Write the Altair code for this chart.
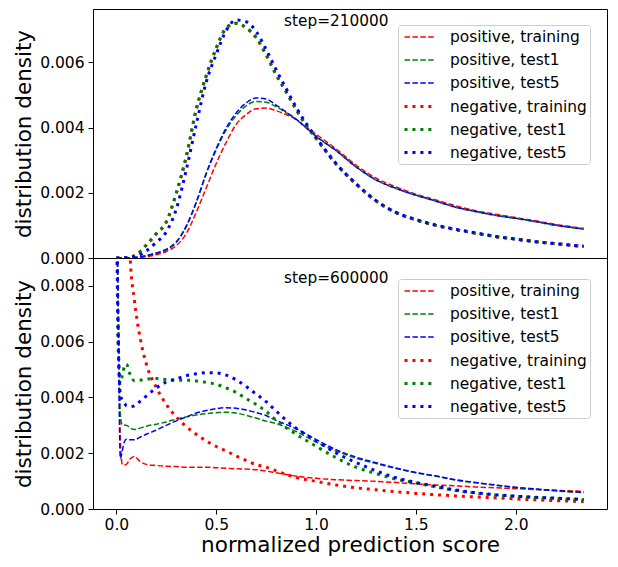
import altair as alt
import pandas as pd

FONT = "DejaVu Sans"

SERIES = ["positive, training", "positive, test1", "positive, test5",
          "negative, training", "negative, test1", "negative, test5"]
COLORS = ["#ff0000", "#008000", "#0000ff", "#ff0000", "#008000", "#0000ff"]
DASHES = [[5.5, 2.4], [5.5, 2.4], [5.5, 2.4], [3, 4.95], [3, 4.95], [3, 4.95]]
WIDTHS = [1.5, 1.5, 1.5, 3, 3, 3]

STEPS = ["step=210000", "step=600000"]
STEP_X = [0.84, 0.84]

# ---- panel 1: step=210000 ----
x_top = [0, 0.05, 0.1, 0.15, 0.2, 0.25, 0.3, 0.35, 0.4, 0.45, 0.5, 0.55, 0.6, 0.65,
         0.7, 0.75, 0.8, 0.85, 0.9, 0.95, 1.0, 1.1, 1.2, 1.3, 1.4, 1.5, 1.6, 1.7,
         1.8, 1.9, 2.0, 2.1, 2.2, 2.34]
top_pos_training = [0, 0, 0.00001, 0.00004, 0.0001, 0.0002, 0.00038, 0.00075, 0.0014,
                    0.00215, 0.0029, 0.00355, 0.0041, 0.0044, 0.00458, 0.0046, 0.00452,
                    0.0044, 0.00425, 0.00403, 0.0038, 0.00335, 0.00285, 0.00245, 0.00218,
                    0.00196, 0.00178, 0.0016, 0.00145, 0.00134, 0.00124, 0.00114, 0.00103,
                    0.00091]
top_pos_test1 = [0, 0, 0.00002, 0.00008, 0.00016, 0.00027, 0.0005, 0.00098, 0.0017,
                 0.00258, 0.00332, 0.00393, 0.00437, 0.00467, 0.0048, 0.00478, 0.00464,
                 0.00446, 0.00425, 0.00399, 0.00373, 0.00329, 0.00279, 0.00239, 0.00213,
                 0.00192, 0.00174, 0.00155, 0.00142, 0.0013, 0.00121, 0.00111, 0.001,
                 0.00088]
top_pos_test5 = [0, 0, 0.00002, 0.00007, 0.00014, 0.00025, 0.00048, 0.00097, 0.00171,
                 0.0026, 0.00336, 0.00399, 0.00445, 0.00476, 0.00491, 0.00488, 0.00469,
                 0.00448, 0.00426, 0.004, 0.00374, 0.0033, 0.0028, 0.0024, 0.00214,
                 0.00193, 0.00175, 0.00156, 0.00143, 0.00131, 0.00122, 0.00112, 0.00101,
                 0.00089]
top_neg_training = [0, 0.00001, 0.0001, 0.0004, 0.00074, 0.0011, 0.00198, 0.0031, 0.00455,
                    0.00558, 0.00643, 0.00705, 0.0072, 0.00706, 0.00676, 0.00623, 0.00562,
                    0.0051, 0.00456, 0.00407, 0.00367, 0.00288, 0.00227, 0.00175, 0.00139,
                    0.00117, 0.001, 0.00087, 0.00076, 0.00065, 0.00058, 0.0005, 0.00044,
                    0.00035]
top_neg_test1 = [0, 0.00001, 0.0001, 0.0004, 0.00075, 0.00111, 0.002, 0.00312, 0.00456,
                 0.0056, 0.00644, 0.00706, 0.0072, 0.00707, 0.00677, 0.00624, 0.00563,
                 0.0051, 0.00456, 0.00408, 0.00368, 0.00289, 0.00228, 0.00176, 0.0014,
                 0.00117, 0.001, 0.00087, 0.00076, 0.00066, 0.00058, 0.0005, 0.00044,
                 0.00035]
top_neg_test5 = [0, 0.00001, 0.00005, 0.00022, 0.00048, 0.0008, 0.0015, 0.0027, 0.0041,
                 0.0054, 0.00625, 0.00698, 0.0073, 0.00725, 0.00695, 0.0064, 0.00578,
                 0.0052, 0.00463, 0.00413, 0.0037, 0.0029, 0.00228, 0.00176, 0.0014,
                 0.00118, 0.00101, 0.00088, 0.00077, 0.00066, 0.00058, 0.0005, 0.00044,
                 0.00036]

# ---- panel 2: step=600000 ----
x_bot = [0, 0.01, 0.02, 0.03, 0.04, 0.05, 0.07, 0.09, 0.12, 0.15, 0.2, 0.25, 0.3, 0.35,
         0.4, 0.45, 0.5, 0.55, 0.6, 0.65, 0.7, 0.75, 0.8, 0.9, 1.0, 1.1, 1.2, 1.3, 1.4,
         1.5, 1.6, 1.7, 1.8, 1.9, 2.0, 2.1, 2.2, 2.34]
bot_pos_training = [0.012, 0.007, 0.0025, 0.0016, 0.00158, 0.0016, 0.0018, 0.00188, 0.0017,
                    0.0016, 0.00156, 0.00153, 0.00152, 0.0015, 0.0015, 0.0015, 0.00148,
                    0.00146, 0.00144, 0.00143, 0.00141, 0.00136, 0.0013, 0.00118, 0.0011,
                    0.00105, 0.00102, 0.00099, 0.00095, 0.0009, 0.00086, 0.00083, 0.00079,
                    0.00076, 0.00073, 0.0007, 0.00067, 0.00063]
bot_pos_test1 = [0.012, 0.007, 0.0034, 0.003, 0.003, 0.003, 0.0029, 0.00285, 0.0029,
                 0.00297, 0.00304, 0.00312, 0.00322, 0.0033, 0.00337, 0.00342, 0.00345,
                 0.00347, 0.00344, 0.00336, 0.00326, 0.00315, 0.00306, 0.00278, 0.0024,
                 0.00208, 0.00182, 0.00163, 0.00145, 0.0013, 0.00118, 0.00103, 0.00094,
                 0.00085, 0.00077, 0.00071, 0.00065, 0.00059]
bot_pos_test5 = [0.012, 0.006, 0.0018, 0.0021, 0.0024, 0.0025, 0.00248, 0.00248, 0.00258,
                 0.00268, 0.00283, 0.003, 0.00316, 0.0033, 0.00344, 0.00353, 0.0036,
                 0.00363, 0.00361, 0.00355, 0.00346, 0.00335, 0.00318, 0.00288, 0.00249,
                 0.00213, 0.00186, 0.00166, 0.00147, 0.00131, 0.00118, 0.00105, 0.00095,
                 0.00086, 0.00078, 0.00072, 0.00066, 0.0006]
bot_neg_training = [0.03, 0.028, 0.025, 0.02, 0.016, 0.013, 0.0089, 0.0075, 0.0061, 0.0052,
                    0.00436, 0.00375, 0.0033, 0.00296, 0.00268, 0.00244, 0.00224, 0.00208,
                    0.0019, 0.00174, 0.00159, 0.0015, 0.00137, 0.00113, 0.00099, 0.00086,
                    0.00076, 0.00069, 0.00062, 0.00056, 0.00051, 0.00047, 0.00043, 0.0004,
                    0.00036, 0.00033, 0.0003, 0.00027]
bot_neg_test1 = [0.012, 0.0055, 0.0045, 0.0048, 0.0051, 0.0052, 0.0048, 0.0046, 0.00462,
                 0.00466, 0.00468, 0.00464, 0.00462, 0.00462, 0.00459, 0.00454, 0.00447,
                 0.00434, 0.00418, 0.00396, 0.00375, 0.0035, 0.00318, 0.00268, 0.00225,
                 0.00184, 0.0015, 0.00127, 0.00107, 0.00093, 0.00079, 0.00066, 0.00057,
                 0.0005, 0.00045, 0.00041, 0.00038, 0.00033]
bot_neg_test5 = [0.012, 0.006, 0.0041, 0.0039, 0.0038, 0.0037, 0.00367, 0.0037, 0.00387,
                 0.00405, 0.00434, 0.00455, 0.00466, 0.00478, 0.00485, 0.00489, 0.00488,
                 0.0048, 0.00463, 0.00439, 0.00412, 0.00385, 0.00351, 0.0029, 0.00245,
                 0.00201, 0.00167, 0.00137, 0.00112, 0.00095, 0.00081, 0.00068, 0.00058,
                 0.00051, 0.00046, 0.00042, 0.00039, 0.00034]

TOP = [top_pos_training, top_pos_test1, top_pos_test5,
       top_neg_training, top_neg_test1, top_neg_test5]
BOT = [bot_pos_training, bot_pos_test1, bot_pos_test5,
       bot_neg_training, bot_neg_test1, bot_neg_test5]


def long_frame(xs, curves):
    rows = []
    for name, ys in zip(SERIES, curves):
        for x, y in zip(xs, ys):
            rows.append({"x": x, "y": y, "series": name})
    return pd.DataFrame(rows)


X_DOMAIN = [-0.117, 2.457]
W = 514


def panel(df, step_text, y_domain, y_values, show_x, height, legend_y, text_y):
    legend = alt.Legend(
        title=None, orient="none", legendX=305, legendY=legend_y,
        symbolType="M-0.75,0L3.125,0", symbolSize=256,
        labelFont=FONT, labelFontSize=15.4, labelColor="black",
        rowPadding=5, padding=3, labelOffset=30, labelLimit=400,
        fillColor="rgba(255,255,255,0.8)", strokeColor="#cccccc",
        cornerRadius=3,
    )
    if show_x:
        xaxis = alt.Axis(values=[0, 0.5, 1.0, 1.5, 2.0], format=".1f",
                         title="normalized prediction score", labelFlush=False,
                         labelPadding=3, titlePadding=2)
    else:
        xaxis = None
    xenc = alt.X("x:Q", scale=alt.Scale(domain=X_DOMAIN, nice=False, zero=False),
                 axis=xaxis)
    lines = alt.Chart(df).mark_line(clip=True, interpolate="monotone").encode(
        x=xenc,
        y=alt.Y("y:Q",
                scale=alt.Scale(domain=y_domain, nice=False, zero=False),
                axis=alt.Axis(values=y_values, format=".3f",
                              title="distribution density")),
        color=alt.Color("series:N", scale=alt.Scale(domain=SERIES, range=COLORS),
                        legend=legend),
        strokeDash=alt.StrokeDash("series:N",
                                  scale=alt.Scale(domain=SERIES, range=DASHES),
                                  legend=legend),
        strokeWidth=alt.StrokeWidth("series:N",
                                    scale=alt.Scale(type="ordinal", domain=SERIES,
                                                    range=WIDTHS),
                                    legend=legend),
    )
    tdf = pd.DataFrame({"x": [step_text[1]], "label": [step_text[0]]})
    text = alt.Chart(tdf).mark_text(align="left", baseline="middle", font=FONT,
                                     fontSize=15.3, color="black").encode(
        x=alt.X("x:Q", scale=alt.Scale(domain=X_DOMAIN, nice=False, zero=False)),
        y=alt.value(text_y),
        text="label:N",
    )
    return alt.layer(lines, text).properties(width=W, height=height)


top = panel(long_frame(x_top, TOP), (STEPS[0], STEP_X[0]), [0, 0.00764],
            [0, 0.002, 0.004, 0.006], False, 249, 16, 12)
bot = panel(long_frame(x_bot, BOT), (STEPS[1], STEP_X[1]), [0, 0.009],
            [0, 0.002, 0.004, 0.006, 0.008], True, 251, 21, 20)

chart = alt.vconcat(top, bot, spacing=0, bounds="flush").resolve_scale(
    x="shared", y="independent", color="independent",
    strokeDash="independent", strokeWidth="independent",
).resolve_legend(
    color="independent", strokeDash="independent", strokeWidth="independent",
).properties(
    padding={"left": 5, "top": 0, "right": 0, "bottom": 0},
).configure_view(
    stroke="black", strokeWidth=1,
).configure_axis(
    labelFont=FONT, titleFont=FONT, labelFontSize=15.5, titleFontSize=21.5,
    titleFontWeight="normal", labelColor="black", titleColor="black",
    tickColor="black", tickSize=5, tickWidth=1, labelPadding=4, domain=False,
    grid=False, titlePadding=4,
)

chart.save("out.html", embed_options={"renderer": "svg", "actions": False})
